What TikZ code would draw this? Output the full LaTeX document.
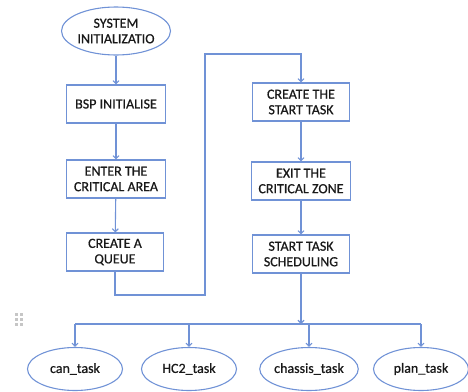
\documentclass[tikz,border=0pt]{standalone}
\usepackage{fontspec}
\setmainfont{Carlito}[FakeBold=0.7]
\usetikzlibrary{arrows.meta,shapes.geometric}
\definecolor{flowblue}{RGB}{112,146,214}
\definecolor{textgray}{RGB}{25,25,25}

\begin{document}
\begin{tikzpicture}[
  x=1pt, y=-1pt,
  every node/.style = {draw=flowblue, line width=1.1pt, text=textgray, align=center, font=\fontsize{14}{15.5}\selectfont},
  stepbox/.style = {shape=rectangle, minimum width=99pt, minimum height=38pt, inner sep=1pt},
  taskoval/.style = {shape=ellipse, minimum width=95pt, minimum height=43pt, inner sep=0pt},
  flow/.style = {draw=flowblue, line width=1.1pt, -{Straight Barb[length=3pt,width=6pt]}},
  plain/.style = {draw=flowblue, line width=1.1pt}
]
  \useasboundingbox (0,0) rectangle (468,391);

  % left column
  \node[taskoval, minimum width=97pt, minimum height=48pt] (init) at (116,31) {SYSTEM\\INITIALIZATIO};
  \node[stepbox] (bsp) at (116,104) {BSP INITIALISE};
  \node[stepbox] (enter) at (116,179) {ENTER THE\\CRITICAL AREA};
  \node[stepbox, minimum width=97pt] (queue) at (115,252) {CREATE A\\QUEUE};

  % right column
  \node[stepbox, minimum width=97pt] (start) at (301,102) {CREATE THE\\START TASK};
  \node[stepbox] (exit) at (301,181) {EXIT THE\\CRITICAL ZONE};
  \node[stepbox, minimum width=97pt] (sched) at (301,254) {START TASK\\SCHEDULING};

  % tasks
  \node[taskoval] (can) at (75,369) {can\_task};
  \node[taskoval] (hc) at (189,369) {HC2\_task};
  \node[taskoval] (chassis) at (309,369) {chassis\_task};
  \node[taskoval] (plan) at (421,369) {plan\_task};

  \coordinate (jogA) at (205,295);
  \coordinate (jogB) at (205,54);
  \coordinate (split) at (301,324);

  \draw[flow] (init) -- (bsp);
  \draw[flow] (bsp) -- (enter);
  \draw[flow] (enter) -- (queue);
  \draw[flow] (queue) |- (jogA) -- (jogB) -| (start);
  \draw[flow] (start) -- (exit);
  \draw[flow] (exit) -- (sched);
  \draw[flow] (sched) -- (split);
  \draw[plain] (split -| can) -- (split -| plan);
  \foreach \t in {can,hc,chassis,plan}
    \draw[flow] (split -| \t) -- (\t);

  % handle dots
  \foreach \i in {0,1}
    \foreach \j in {0,1,2}
      \fill[gray!45] (15+\i*5,313+\j*5) rectangle +(3,3);
\end{tikzpicture}
\end{document}
